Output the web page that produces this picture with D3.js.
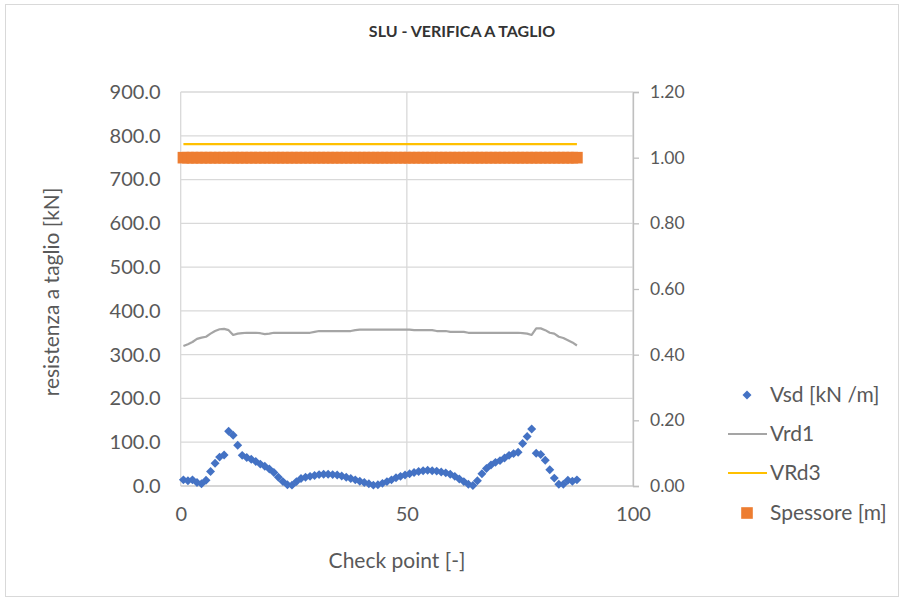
<!DOCTYPE html>
<html>
<head>
<meta charset="utf-8">
<script src="https://cdn.jsdelivr.net/npm/d3@7"></script>
<style>
  body { margin: 0; background: #fff; }
  text { font-family: Lato, "Open Sans", sans-serif; fill: #595959; }
</style>
</head>
<body>
<svg id="chart" width="905" height="602"></svg>
<script>
// ---- data ----
const title = "SLU - VERIFICA A TAGLIO";
const xTitle = "Check point [-]";
const yTitle = "resistenza a taglio [kN]";
const seriesNames = ["Vsd [kN /m]", "Vrd1", "VRd3", "Spessore [m]"];

const vsd = [14, 12, 14, 8, 5, 13, 33, 52, 66, 71, 125, 116, 93, 70, 65, 61, 56, 50, 45, 39,
             31, 20, 10, 3, 2, 10, 17, 20, 22, 24, 26, 27, 27, 26, 25, 23, 20, 17, 14, 11,
             8, 5, 2, 3, 6, 10, 14, 19, 22, 25, 28, 31, 33, 35, 36, 35, 34, 32, 30, 27,
             22, 16, 10, 4, 1, 12, 28, 40, 48, 54, 58, 64, 70, 74, 77, 97, 113, 130, 75, 72,
             59, 37, 18, 4, 4, 13, 11, 14];
const vrd1 = [320, 324, 329, 336, 339, 341, 348, 354, 358, 359, 356, 345, 348, 349, 350, 350, 350, 349, 347, 348,
              350, 350, 350, 350, 350, 350, 350, 350, 350, 352, 354, 354, 354, 354, 354, 354, 354, 354, 356, 357,
              357, 357, 357, 357, 357, 357, 357, 357, 357, 357, 357, 356, 356, 356, 356, 356, 354, 354, 354, 352,
              352, 352, 352, 350, 350, 350, 350, 350, 350, 350, 350, 350, 350, 350, 350, 349, 348, 345, 360, 360,
              356, 350, 348, 341, 338, 333, 328, 321];
const vrd3Value = 781;
const spessoreValue = 1.0;
const checkpoints = d3.range(vsd.length).map(i => +(0.6 + i).toFixed(1));

const leftTicks = [0, 100, 200, 300, 400, 500, 600, 700, 800, 900];
const rightTicks = [0, 0.2, 0.4, 0.6, 0.8, 1.0, 1.2];
const xTicks = [0, 50, 100];

// ---- layout ----
const svg = d3.select("#chart");
const plot = { left: 180.7, right: 633, top: 92, bottom: 486 };
const colors = { vsd: "#4472C4", vrd1: "#A5A5A5", vrd3: "#FFC000", sp: "#ED7D31" };

const x = d3.scaleLinear().domain([0, 100]).range([plot.left, plot.right]);
const y = d3.scaleLinear().domain([0, 900]).range([plot.bottom, plot.top]);
const y2 = d3.scaleLinear().domain([0, 1.2]).range([plot.bottom, plot.top]);

// chart border
svg.append("rect").attr("x", 5.5).attr("y", 4.5).attr("width", 893).attr("height", 592)
  .attr("fill", "#fff").attr("stroke", "#D9D9D9").attr("stroke-width", 1);

// gridlines
const grid = svg.append("g");
grid.selectAll("line.h").data(leftTicks.filter(t => t > 0)).join("line")
  .attr("x1", plot.left).attr("x2", plot.right)
  .attr("y1", d => y(d)).attr("y2", d => y(d))
  .attr("stroke", "#D9D9D9").attr("stroke-width", 1.3);
grid.selectAll("line.v").data(xTicks).join("line")
  .attr("y1", plot.top).attr("y2", plot.bottom)
  .attr("x1", d => x(d)).attr("x2", d => x(d))
  .attr("stroke", "#D9D9D9").attr("stroke-width", 1.3);

// x axis line (bottom)
svg.append("line").attr("x1", plot.left).attr("x2", plot.right)
  .attr("y1", plot.bottom).attr("y2", plot.bottom)
  .attr("stroke", "#C8C8C8").attr("stroke-width", 1.3);

// right axis
const rightAxis = d3.axisRight(y2).tickValues(rightTicks).tickSize(6).tickPadding(10)
  .tickFormat(d3.format(".2f"));
const ra = svg.append("g").attr("transform", `translate(${plot.right},0)`).call(rightAxis);
ra.select(".domain").attr("stroke", "#BFBFBF").attr("stroke-width", 1.3);
ra.selectAll(".tick line").attr("stroke", "#BFBFBF").attr("stroke-width", 1.3);
ra.selectAll(".tick text").attr("x", 17).attr("font-size", 17.5).attr("fill", "#595959")
  .style("font-family", "Lato, sans-serif");

// left axis (labels only)
const leftAxis = d3.axisLeft(y).tickValues(leftTicks).tickSize(0).tickPadding(20)
  .tickFormat(d3.format(".1f"));
const la = svg.append("g").attr("transform", `translate(${plot.left},0)`).call(leftAxis);
la.select(".domain").remove();
la.selectAll(".tick text").attr("font-size", 20).attr("fill", "#595959")
  .style("font-family", "Lato, sans-serif");

// bottom axis (labels only)
const bottomAxis = d3.axisBottom(x).tickValues(xTicks).tickSize(0).tickPadding(21);
const ba = svg.append("g").attr("transform", `translate(0,${plot.bottom})`).call(bottomAxis);
ba.select(".domain").remove();
ba.selectAll(".tick text").attr("font-size", 20).attr("fill", "#595959")
  .style("font-family", "Lato, sans-serif");

// Spessore squares (right axis)
const sq = d3.symbol().type(d3.symbolSquare).size(135);
svg.append("g").selectAll("path").data(checkpoints).join("path")
  .attr("d", sq)
  .attr("transform", d => `translate(${x(d)},${y2(spessoreValue)})`)
  .attr("fill", colors.sp);

// VRd3 line
svg.append("path")
  .datum(checkpoints)
  .attr("d", d3.line().x(d => x(d)).y(() => y(vrd3Value)))
  .attr("fill", "none").attr("stroke", colors.vrd3).attr("stroke-width", 2.2);

// Vrd1 line
svg.append("path")
  .datum(checkpoints.map((c, i) => [c, vrd1[i]]))
  .attr("d", d3.line().x(d => x(d[0])).y(d => y(d[1])))
  .attr("fill", "none").attr("stroke", colors.vrd1).attr("stroke-width", 2.2)
  .attr("stroke-linejoin", "round");

// Vsd diamonds
const dia = d3.symbol().type(d3.symbolSquare).size(40);
svg.append("g").selectAll("path").data(checkpoints.map((c, i) => [c, vsd[i]])).join("path")
  .attr("d", dia)
  .attr("transform", d => `translate(${x(d[0])},${y(d[1])}) rotate(45)`)
  .attr("fill", colors.vsd);

// title
svg.append("text").attr("x", 462).attr("y", 31).attr("text-anchor", "middle")
  .attr("dy", "0.35em").attr("font-size", 16).attr("font-weight", "bold")
  .style("fill", "#333333").text(title);

// axis titles
svg.append("text").attr("transform", "translate(52,292) rotate(-90)")
  .attr("text-anchor", "middle").attr("dy", "0.35em").attr("font-size", 21).text(yTitle);
svg.append("text").attr("x", 397).attr("y", 561).attr("text-anchor", "middle")
  .attr("dy", "0.35em").attr("font-size", 21).text(xTitle);

// legend
const lg = svg.append("g");
const lgY = [395, 434, 473, 513];
lg.append("path").attr("d", dia).attr("transform", `translate(747,${lgY[0]}) rotate(45)`).attr("fill", colors.vsd);
lg.append("line").attr("x1", 728).attr("x2", 767).attr("y1", lgY[1]).attr("y2", lgY[1])
  .attr("stroke", colors.vrd1).attr("stroke-width", 2.2);
lg.append("line").attr("x1", 728).attr("x2", 767).attr("y1", lgY[2]).attr("y2", lgY[2])
  .attr("stroke", colors.vrd3).attr("stroke-width", 2.2);
lg.append("path").attr("d", sq).attr("transform", `translate(747,${lgY[3]})`).attr("fill", colors.sp);
lg.selectAll("text").data(seriesNames).join("text")
  .attr("x", 770).attr("y", (d, i) => lgY[i]).attr("dy", "0.35em")
  .attr("font-size", 21).text(d => d);
</script>
</body>
</html>
